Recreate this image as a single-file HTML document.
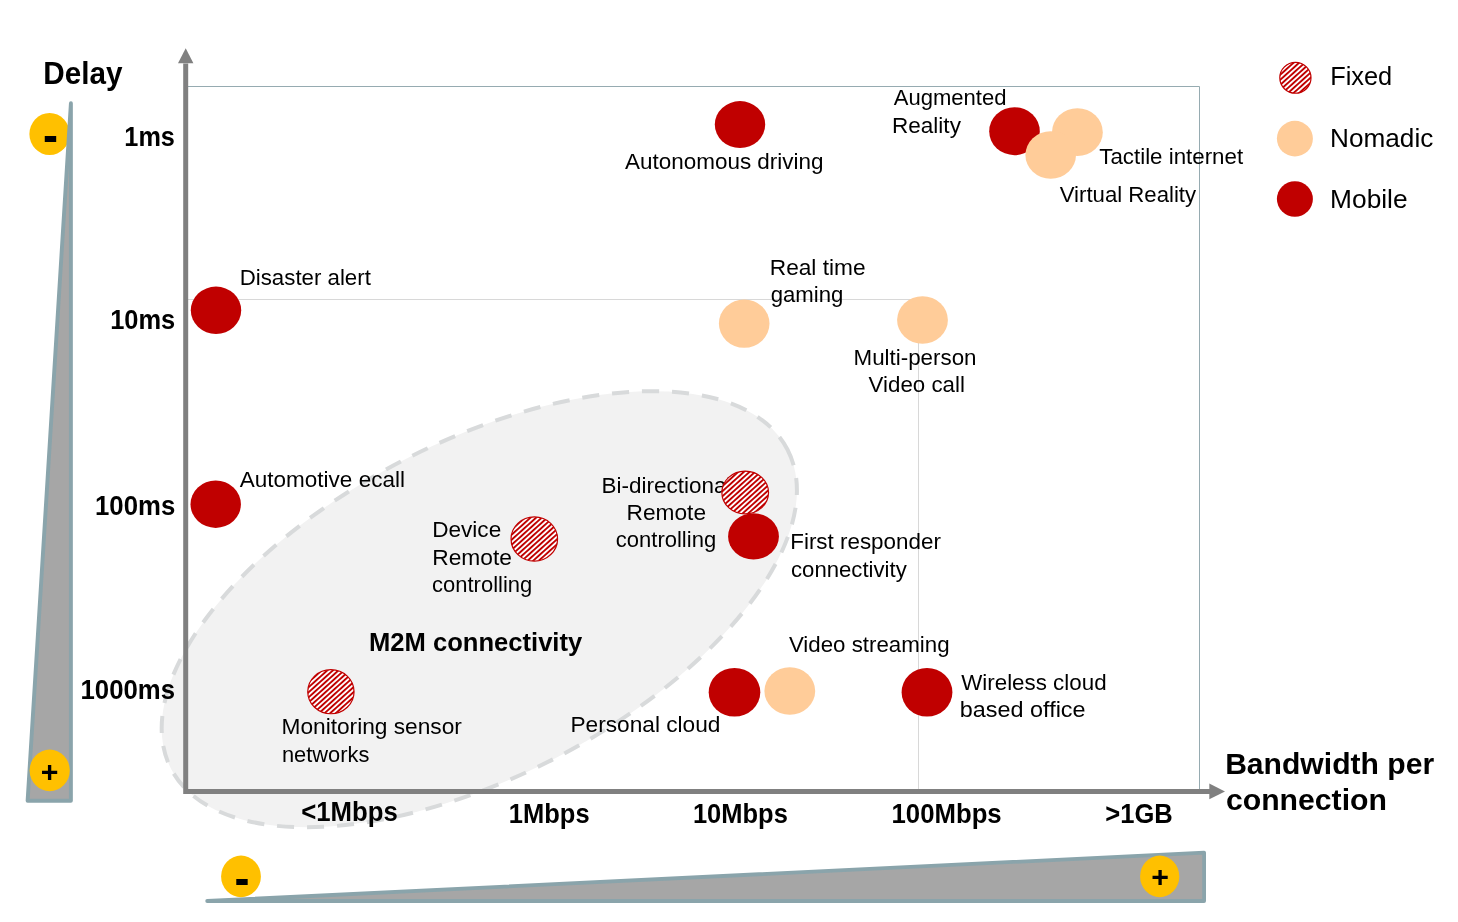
<!DOCTYPE html>
<html><head><meta charset="utf-8"><title>Delay vs Bandwidth per connection</title>
<style>
html,body{margin:0;padding:0;background:#fff;}
body{width:1458px;height:922px;overflow:hidden;}
svg{display:block;font-family:"Liberation Sans",Arial,Helvetica,sans-serif;fill:#000;}
</style></head><body>
<svg width="1458" height="922" viewBox="0 0 1458 922">
<defs>
<pattern id="hatch" width="3.75" height="3.75" patternUnits="userSpaceOnUse" patternTransform="rotate(-42)">
<rect x="0" y="0" width="3.75" height="3.75" fill="#fff"/>
<rect x="0" y="0" width="3.75" height="1.9" fill="#c00000"/>
</pattern>
</defs>
<rect x="0" y="0" width="1458" height="922" fill="#fff"/>

<ellipse cx="0" cy="0" rx="347.1" ry="167.2" transform="translate(479.3 609.2) rotate(-27.4)" fill="#f2f2f2" stroke="#d8dadb" stroke-width="4" stroke-dasharray="17 13"/>
<path d="M188 86.5 H1199.5 V790" fill="none" stroke="#96abb1" stroke-width="1"/>
<path d="M188 299.5 H918.5 V790" fill="none" stroke="#d8d8d8" stroke-width="1"/>
<ellipse cx="49.6" cy="134" rx="20.2" ry="21" fill="#ffc000"/>
<path d="M70.9 103.3 L70.9 800.8 L27.6 800.8 Z" fill="#a6a6a6" stroke="#8aa4ab" stroke-width="3.9" stroke-linejoin="round"/>
<path d="M207.2 901 L1204.1 852.7 L1204.1 901 Z" fill="#a6a6a6" stroke="#8aa4ab" stroke-width="3.8" stroke-linejoin="round"/>
<path d="M185.7 63.5 V791.4 H1210" fill="none" stroke="#808080" stroke-width="5" stroke-linejoin="miter"/>
<path d="M185.7 48.2 L193.4 63.2 L178 63.2 Z" fill="#808080"/>
<path d="M1225 791.4 L1209.3 783.6 L1209.3 799.2 Z" fill="#808080"/>
<ellipse cx="49.7" cy="770.4" rx="20.1" ry="20.8" fill="#ffc000"/>
<ellipse cx="241" cy="876.4" rx="19.9" ry="20.8" fill="#ffc000"/>
<ellipse cx="1159.7" cy="876.4" rx="19.6" ry="20.8" fill="#ffc000"/>
<text transform="translate(42.90 152.12) scale(0.98 1.1)" font-size="46" font-weight="bold">-</text>
<text transform="translate(234.40 894.92) scale(0.98 1.1)" font-size="46" font-weight="bold">-</text>
<text transform="translate(40.64 781.52)" font-size="30.3" font-weight="bold">+</text>
<text transform="translate(1151.24 886.52)" font-size="30.3" font-weight="bold">+</text>
<g>
<text transform="translate(239.72 284.80) scale(0.9856 1.0)" font-size="22.6">Disaster alert</text>
<text transform="translate(239.79 486.70) scale(0.9964 1.0)" font-size="22.6">Automotive ecall</text>
<text transform="translate(625.09 169.00) scale(0.9939 1.0)" font-size="22.6">Autonomous driving</text>
<text transform="translate(893.69 105.10) scale(0.9762 1.0)" font-size="22.6">Augmented</text>
<text transform="translate(892.00 132.90) scale(0.9982 1.0)" font-size="22.6">Reality</text>
<text transform="translate(1099.25 163.70) scale(0.9876 1.0)" font-size="22.6">Tactile internet</text>
<text transform="translate(1059.69 201.50) scale(0.9822 1.0)" font-size="22.6">Virtual Reality</text>
<text transform="translate(769.79 275.10) scale(1.0037 1.0)" font-size="22.6">Real time</text>
<text transform="translate(770.71 302.40) scale(0.9811 1.0)" font-size="22.6">gaming</text>
<text transform="translate(853.51 365.00) scale(0.9899 1.0)" font-size="22.6">Multi-person</text>
<text transform="translate(868.59 392.40) scale(0.9871 1.0)" font-size="22.6">Video call</text>
<text transform="translate(432.19 537.00) scale(0.9997 1.0)" font-size="22.6">Device</text>
<text transform="translate(432.18 565.00) scale(1.0082 1.0)" font-size="22.6">Remote</text>
<text transform="translate(432.01 591.60) scale(0.9736 1.0)" font-size="22.6">controlling</text>
<text transform="translate(601.60 492.80) scale(0.9941 1.0)" font-size="22.6">Bi-directional</text>
<text transform="translate(626.48 520.20) scale(1.0056 1.0)" font-size="22.6">Remote</text>
<text transform="translate(615.81 546.90) scale(0.9745 1.0)" font-size="22.6">controlling</text>
<text transform="translate(790.21 548.90) scale(0.9918 1.0)" font-size="22.6">First responder</text>
<text transform="translate(791.00 576.80) scale(0.9807 1.0)" font-size="22.6">connectivity</text>
<text transform="translate(788.89 652.00) scale(0.9873 1.0)" font-size="22.6">Video streaming</text>
<text transform="translate(570.48 731.50) scale(1.0040 1.0)" font-size="22.6">Personal cloud</text>
<text transform="translate(961.19 689.50) scale(0.9902 1.0)" font-size="22.6">Wireless cloud</text>
<text transform="translate(959.78 716.80) scale(1.0362 1.0)" font-size="22.6">based office</text>
<text transform="translate(281.48 734.40) scale(1.0050 1.0)" font-size="22.6">Monitoring sensor</text>
<text transform="translate(281.88 761.80) scale(0.9678 1.0)" font-size="22.6">networks</text>
<text transform="translate(124.36 146.20) scale(0.9225 1.0)" font-size="27.4" font-weight="bold">1ms</text>
<text transform="translate(110.14 329.00) scale(0.9295 1.0)" font-size="27.4" font-weight="bold">10ms</text>
<text transform="translate(95.02 515.00) scale(0.9409 1.0)" font-size="27.4" font-weight="bold">100ms</text>
<text transform="translate(80.53 699.40) scale(0.9398 1.0)" font-size="27.4" font-weight="bold">1000ms</text>
<text transform="translate(301.17 821.00) scale(0.9408 1.0)" font-size="27.4" font-weight="bold">&lt;1Mbps</text>
<text transform="translate(508.84 823.00) scale(0.9315 1.0)" font-size="27.4" font-weight="bold">1Mbps</text>
<text transform="translate(692.94 822.50) scale(0.9308 1.0)" font-size="27.4" font-weight="bold">10Mbps</text>
<text transform="translate(891.53 822.50) scale(0.9397 1.0)" font-size="27.4" font-weight="bold">100Mbps</text>
<text transform="translate(1105.28 822.50) scale(0.9328 1.0)" font-size="27.4" font-weight="bold">&gt;1GB</text>
<text transform="translate(369.04 650.50) scale(0.9842 1.0)" font-size="26" font-weight="bold">M2M connectivity</text>
<text transform="translate(43.27 83.90) scale(0.9741 1.0)" font-size="30.5" font-weight="bold">Delay</text>
<text transform="translate(1225.14 774.00) scale(1.0104 1.0)" font-size="29.8" font-weight="bold">Bandwidth per</text>
<text transform="translate(1225.89 809.80) scale(1.0134 1.0)" font-size="29.8" font-weight="bold">connection</text>
<text transform="translate(1330.17 84.80) scale(0.9918 1.0)" font-size="25.6">Fixed</text>
<text transform="translate(1330.11 146.90) scale(1.0304 1.0)" font-size="25.4">Nomadic</text>
<text transform="translate(1330.10 208.10) scale(1.0359 1.0)" font-size="25.4">Mobile</text>
</g>
<ellipse cx="216" cy="310.3" rx="25.2" ry="23.7" fill="#c00000"/>
<ellipse cx="215.7" cy="504.2" rx="25.2" ry="23.7" fill="#c00000"/>
<ellipse cx="740" cy="124.6" rx="25.2" ry="23.5" fill="#c00000"/>
<ellipse cx="1014.5" cy="131.2" rx="25.3" ry="24" fill="#c00000"/>
<ellipse cx="1077.4" cy="132.2" rx="25.4" ry="23.9" fill="#ffcc99"/>
<ellipse cx="1050.7" cy="155" rx="25.3" ry="23.8" fill="#ffcc99"/>
<ellipse cx="744.2" cy="323.6" rx="25.3" ry="24.2" fill="#ffcc99"/>
<ellipse cx="922.5" cy="320" rx="25.4" ry="23.7" fill="#ffcc99"/>
<ellipse cx="534.3" cy="539" rx="23.25" ry="22.05" fill="url(#hatch)" stroke="#c00000" stroke-width="1.2"/>
<ellipse cx="745.2" cy="492.5" rx="23.35" ry="21.45" fill="url(#hatch)" stroke="#c00000" stroke-width="1.2"/>
<ellipse cx="753.5" cy="536.4" rx="25.4" ry="23.1" fill="#c00000"/>
<ellipse cx="330.9" cy="691.7" rx="23.15" ry="22.05" fill="url(#hatch)" stroke="#c00000" stroke-width="1.2"/>
<ellipse cx="734.5" cy="692.3" rx="25.8" ry="24.3" fill="#c00000"/>
<ellipse cx="789.8" cy="691" rx="25.4" ry="23.7" fill="#ffcc99"/>
<ellipse cx="927" cy="692.3" rx="25.4" ry="24.3" fill="#c00000"/>
<ellipse cx="1295.4" cy="77.8" rx="15.6" ry="15.45" fill="url(#hatch)" stroke="#c00000" stroke-width="1.2"/>
<ellipse cx="1294.9" cy="138.6" rx="18" ry="17.8" fill="#ffcc99"/>
<ellipse cx="1294.9" cy="199" rx="18" ry="17.8" fill="#c00000"/>
</svg></body></html>
